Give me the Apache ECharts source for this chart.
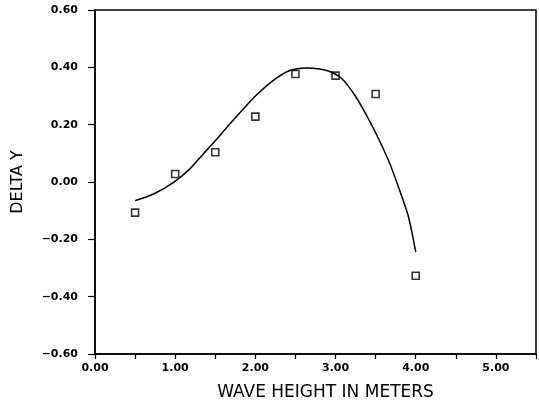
<!DOCTYPE html>
<html><head><meta charset="utf-8">
<script src="https://cdn.jsdelivr.net/npm/echarts@6/dist/echarts.min.js"></script>
<style>html,body{margin:0;padding:0;background:#fff}#c{width:539px;height:403px}</style>
</head><body><div id="c"></div>
<script>
var obsX = [0.5, 1.0, 1.5, 2.0, 2.5, 3.0, 3.5, 4.0];
var obsY = [-0.107, 0.028, 0.104, 0.228, 0.377, 0.371, 0.307, -0.327];
var fitX = [0.50, 0.73, 0.98, 1.18, 1.35, 1.52, 1.68, 1.85, 2.02, 2.22, 2.43, 2.64, 2.89, 3.08, 3.26, 3.43, 3.55, 3.68, 3.80, 3.91, 4.00];
var fitY = [-0.065, -0.042, -0.001, 0.045, 0.098, 0.150, 0.202, 0.255, 0.305, 0.354, 0.389, 0.398, 0.389, 0.360, 0.294, 0.210, 0.143, 0.062, -0.030, -0.122, -0.245];
var xTitle = 'WAVE HEIGHT IN METERS';
var yTitle = 'DELTA Y';

function pairs(a, b) { return a.map(function (v, i) { return [v, b[i]]; }); }
function fmt(v) { return v.toFixed(2).replace('-', '\u2212'); }

var chart = echarts.init(document.getElementById('c'));
chart.setOption({
  animation: false,
  grid: { left: 95, right: 3, top: 10, bottom: 49, show: true, borderColor: '#000', borderWidth: 1.5, containLabel: false, outerBoundsMode: 'none' },
  xAxis: {
    type: 'value', min: 0, max: 5.5, interval: 0.5,
    axisLine: { show: true, onZero: false, lineStyle: { color: '#000', width: 1.5 } },
    axisTick: { show: true, length: 5, lineStyle: { color: '#000', width: 1.2 } },
    splitLine: { show: false },
    axisLabel: {
      color: '#000', fontFamily: 'DejaVu Sans', fontWeight: 'bold', fontSize: 11, margin: 9,
      formatter: function (v) { return (Math.abs(v - Math.round(v)) < 1e-6 && v < 5.25) ? fmt(v) : ''; }
    },
    name: xTitle, nameLocation: 'middle', nameGap: 30,
    nameTextStyle: { color: '#000', fontFamily: 'DejaVu Sans', fontSize: 17, padding: [0, 0, 0, 20] }
  },
  yAxis: {
    type: 'value', min: -0.6, max: 0.6, interval: 0.2,
    axisLine: { show: true, lineStyle: { color: '#000', width: 1.5 } },
    axisTick: { show: true, length: 7, lineStyle: { color: '#000', width: 1.2 } },
    splitLine: { show: false },
    axisLabel: { color: '#000', fontFamily: 'DejaVu Sans', fontWeight: 'bold', fontSize: 11, margin: 17, formatter: fmt },
    name: yTitle, nameLocation: 'middle', nameGap: 69, nameRotate: 90,
    nameTextStyle: { color: '#000', fontFamily: 'DejaVu Sans', fontSize: 16 }
  },
  series: [
    { type: 'line', data: pairs(fitX, fitY), smooth: 0.3, showSymbol: false, symbol: 'none',
      lineStyle: { color: '#000', width: 1.5 } },
    { type: 'scatter', data: pairs(obsX, obsY), symbol: 'rect', symbolSize: 7,
      itemStyle: { color: '#fff', borderColor: '#000', borderWidth: 1.6 } }
  ]
});
</script></body></html>
